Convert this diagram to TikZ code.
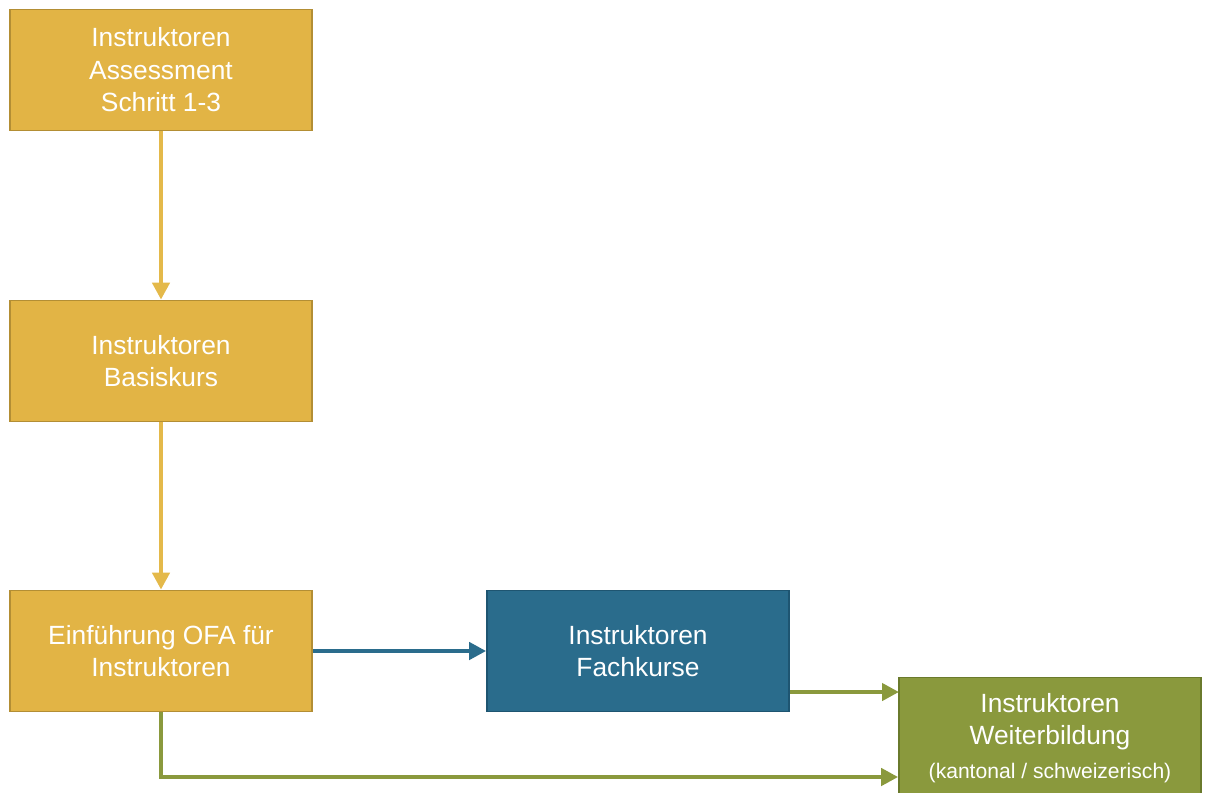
\documentclass[tikz,border=0pt]{standalone}
\usepackage{fontspec}
\setmainfont{Liberation Sans}
\usetikzlibrary{arrows.meta}
\definecolor{gold}{HTML}{E2B445}
\definecolor{golddark}{HTML}{B38E34}
\definecolor{goldline}{HTML}{E4B94A}
\definecolor{petrol}{HTML}{2A6C8C}
\definecolor{petroldark}{HTML}{1E5571}
\definecolor{olive}{HTML}{8A993D}
\definecolor{olivedark}{HTML}{6A7A2C}
\begin{document}
\begin{tikzpicture}[x=0.02cm,y=-0.02cm]
      \tikzstyle{kurs}=[draw,line width=1pt,minimum width=6.04cm,minimum height=2.42cm,text=white,align=center,font=\fontsize{15}{18.5}\selectfont]
      \tikzstyle{edge}=[line width=2.8pt,-{Triangle[length=0.34cm,width=0.34cm]}]
      \clip (0,0) rectangle (1209,792);
      \node[kurs,fill=gold,draw=golddark] (A) at (161,70) {Instruktoren\\Assessment\\Schritt 1-3};
      \node[kurs,fill=gold,draw=golddark] (B) at (161,361) {Instruktoren\\Basiskurs};
      \node[kurs,fill=gold,draw=golddark] (C) at (161,651) {Einführung OFA für\\Instruktoren};
      \node[kurs,fill=petrol,draw=petroldark] (D) at (638,651) {Instruktoren\\Fachkurse};
      \node[kurs,fill=olive,draw=olivedark] (E) at (1050,738) {Instruktoren\\Weiterbildung\\[1pt]{\fontsize{12}{14}\selectfont (kantonal / schweizerisch)}};
      \coordinate (E1) at (899,692);
      \coordinate (E2) at (161,777);
      \path[edge,draw=goldline] (A) -- (B);
      \path[edge,draw=goldline] (B) -- (C);
      \path[edge,draw=petrol] (C.east |- D) -- (D);
      \path[edge,draw=olive] (D.east |- E1) -- (E1);
      \path[edge,draw=olive] (C) -- (E2) -- (E.west |- E2);
    \end{tikzpicture}
\end{document}
